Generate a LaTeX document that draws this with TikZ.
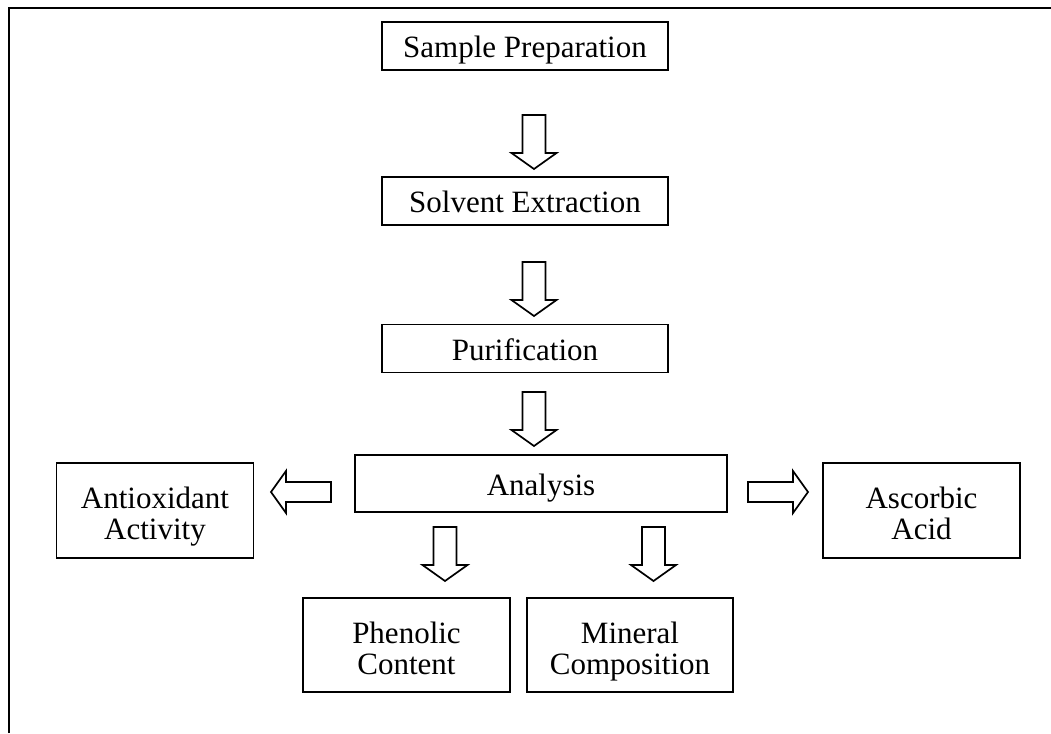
\documentclass[tikz,border=0pt]{standalone}
\usepackage{fontspec}
\setmainfont{Liberation Serif}
\begin{document}
\begin{tikzpicture}[x=1pt,y=-1pt,line width=1.7pt,line join=miter,
  box/.style={draw,line width=1.7pt,inner sep=0pt,align=center,font=\fontsize{31}{31}\selectfont},
  one/.style={box,text height=23.6pt,text depth=0pt},
  two/.style={box,text height=58.6pt,text depth=0pt},
  wide/.style={one,minimum width=286pt,minimum height=48pt},
  side/.style={two,minimum width=197pt,minimum height=95pt},
  darrow/.pic={\draw (-11.5,0) -- (11.5,0) -- (11.5,38) -- (22.5,38) -- (0,54) -- (-22.5,38) -- (-11.5,38) -- cycle;},
  rarrow/.pic={\draw (0,-10) -- (45,-10) -- (45,-21) -- (60,0) -- (45,21) -- (45,10) -- (0,10) -- cycle;},
  larrow/.pic={\draw (0,-10) -- (-45,-10) -- (-45,-21) -- (-60,0) -- (-45,21) -- (-45,10) -- (0,10) -- cycle;}
]
\useasboundingbox (0,0) rectangle (1051,733);
\draw (9,733) -- (9,8) -- (1051,8);

\node[wide] (sp) at (525,46) {Sample Preparation};
\node[wide] (se) at (525,201) {Solvent Extraction};
\node[wide] (pu) at (525,348.5) {Purification};
\node[one,minimum width=372pt,minimum height=57pt] (an) at (541,483.5) {Analysis};
\node[side] (ao) at (155,510.5) {Antioxidant\\Activity};
\node[side] (as) at (921.5,510.5) {Ascorbic\\Acid};
\node[side,minimum width=207pt,minimum height=94pt] (ph) at (406.5,645) {Phenolic\\Content};
\node[side,minimum width=206pt,minimum height=94pt] (mc) at (630,645) {Mineral\\Composition};

\pic at (534,115) {darrow};
\pic at (534,262) {darrow};
\pic at (534,392) {darrow};
\pic at (331,492) {larrow};
\pic at (748,492) {rarrow};
\pic at (445,527) {darrow};
\pic at (653.5,527) {darrow};
\end{tikzpicture}
\end{document}
